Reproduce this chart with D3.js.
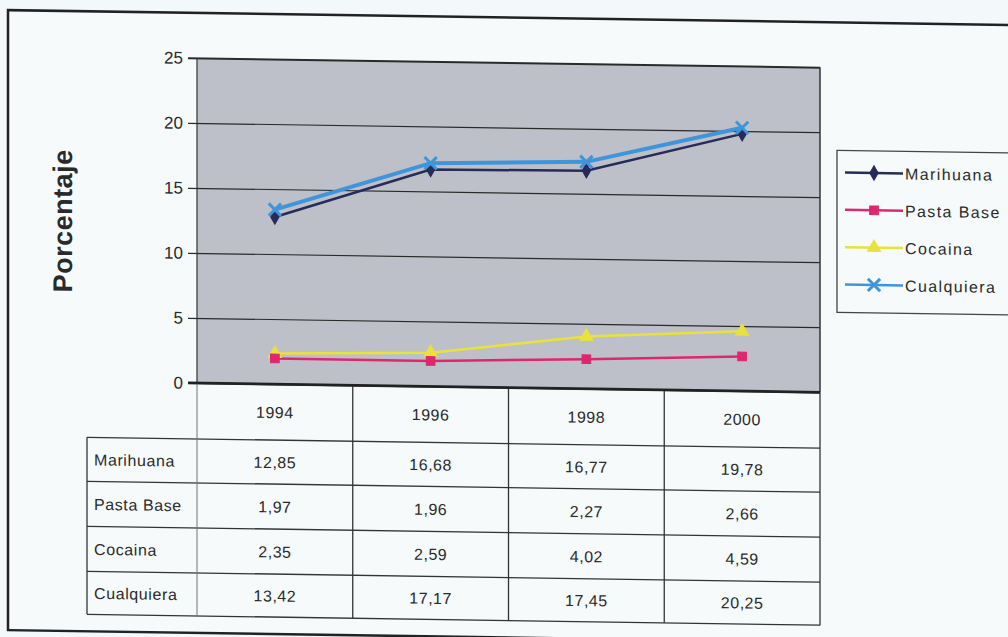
<!DOCTYPE html>
<html>
<head>
<meta charset="utf-8">
<script src="https://cdn.jsdelivr.net/npm/d3@7"></script>
<style>
  body { margin: 0; background: #f3f8fa; }
  svg { display: block; }
  text { font-family: 'Liberation Sans', Arial, sans-serif; fill: #2a2a2a; }
</style>
</head>
<body>
<div id="chart"></div>
<script>
let years = ['1994', '1996', '1998', '2000']
let seriesNames = ['Marihuana', 'Pasta Base', 'Cocaina', 'Cualquiera']
let marihuana = [12.85, 16.68, 16.77, 19.78]
let pastaBase = [1.97, 1.96, 2.27, 2.66]
let cocaina = [2.35, 2.59, 4.02, 4.59]
let cualquiera = [13.42, 17.17, 17.45, 20.25]
let yTicks = [0, 5, 10, 15, 20, 25]

let W = 1008
let H = 637

let plot = { left: 197, right: 820, top: 55, bottom: 380 }
let rowLines = [436, 480, 525, 570, 613]

let series = [
  { name: 'Marihuana', values: marihuana, color: '#262b58', width: 2.5, symbol: d3.symbolDiamond, size: 60 },
  { name: 'Pasta Base', values: pastaBase, color: '#e0266f', width: 2.5, symbol: d3.symbolSquare, size: 75 },
  { name: 'Cocaina', values: cocaina, color: '#e9e23a', width: 2.5, symbol: d3.symbolTriangle, size: 75 },
  { name: 'Cualquiera', values: cualquiera, color: '#3f95da', width: 4, symbol: d3.symbolX, size: 100 }
]

let svg = d3
  .select('#chart')
  .append('svg')
  .attr('width', W)
  .attr('height', H)

// page background
svg.append('rect').attr('width', W).attr('height', H).attr('fill', '#f3f8fa')

// the scan is slightly skewed
let g = svg.append('g').attr('transform', 'skewY(0.85)')

// outer frame
g.append('rect')
  .attr('x', 8)
  .attr('y', 10)
  .attr('width', 1020)
  .attr('height', 620)
  .attr('fill', '#f6fafb')
  .attr('stroke', '#222')
  .attr('stroke-width', 2.5)

let xPositionScale = d3
  .scalePoint()
  .domain(years)
  .range([plot.left, plot.right])
  .padding(0.5)

let yPositionScale = d3
  .scaleLinear()
  .domain([0, 25])
  .range([plot.bottom, plot.top])

let step = xPositionScale.step()

// plot area
g.append('rect')
  .attr('x', plot.left)
  .attr('y', plot.top)
  .attr('width', plot.right - plot.left)
  .attr('height', plot.bottom - plot.top)
  .attr('fill', '#bdc0c9')

// y axis with gridlines
let yAxis = d3
  .axisLeft(yPositionScale)
  .tickValues(yTicks)
  .tickSize(-(plot.right - plot.left))
  .tickPadding(14)
let yAxisG = g
  .append('g')
  .attr('class', 'axis y-axis')
  .attr('transform', 'translate(' + plot.left + ',0)')
  .call(yAxis)
yAxisG.select('.domain').remove()
yAxisG.selectAll('.tick line')
  .attr('x1', -9)
  .attr('stroke', '#2a2a2a')
  .attr('stroke-width', d => (d === 0 || d === 25 ? 2 : 1.2))
yAxisG.selectAll('.tick text')
  .attr('font-size', 17)
  .attr('fill', '#2a2a2a')
  .style('font-family', "'Liberation Sans', Arial, sans-serif")

// plot borders (left, right)
g.append('line')
  .attr('x1', plot.left).attr('x2', plot.left)
  .attr('y1', plot.top).attr('y2', plot.bottom)
  .attr('stroke', '#333').attr('stroke-width', 1.2)
g.append('line')
  .attr('x1', plot.right).attr('x2', plot.right)
  .attr('y1', plot.top).attr('y2', plot.bottom)
  .attr('stroke', '#333').attr('stroke-width', 1.5)

// lines
let line = d3
  .line()
  .x((d, i) => xPositionScale(years[i]))
  .y(d => yPositionScale(d))

let drawOrder = [series[2], series[1], series[0], series[3]]

g.selectAll('.drug-line')
  .data(drawOrder)
  .enter()
  .append('path')
  .attr('class', 'drug-line')
  .attr('d', d => line(d.values))
  .attr('fill', 'none')
  .attr('stroke', d => d.color)
  .attr('stroke-width', d => d.width)

drawOrder.forEach(s => {
  g.selectAll('.marker-' + s.name.replace(' ', ''))
    .data(s.values)
    .enter()
    .append('path')
    .attr('transform', (d, i) => 'translate(' + xPositionScale(years[i]) + ',' + yPositionScale(d) + ')')
    .attr('d', d3.symbol().type(s.symbol).size(s.size))
    .attr('fill', s.symbol === d3.symbolX ? 'none' : s.color)
    .attr('stroke', s.color)
    .attr('stroke-width', s.symbol === d3.symbolX ? 3 : 1)
})

// y label
g.append('text')
  .attr('transform', 'translate(72,220) rotate(-90)')
  .attr('text-anchor', 'middle')
  .attr('font-size', 27)
  .attr('font-weight', 'bold')
  .attr('letter-spacing', 0.5)
  .text('Porcentaje')

// data table
let table = g.append('g').attr('class', 'data-table')
let tableLeft = 87
let fmt = v => d3.format('.2f')(v).replace('.', ',')

// horizontal lines
table.selectAll('.row-line')
  .data(rowLines)
  .enter()
  .append('line')
  .attr('x1', tableLeft)
  .attr('x2', plot.right)
  .attr('y1', d => d)
  .attr('y2', d => d)
  .attr('stroke', '#333')
  .attr('stroke-width', 1.3)

// vertical lines
let colEdges = years.map(y => xPositionScale(y) + step / 2)
table.selectAll('.col-line')
  .data(colEdges)
  .enter()
  .append('line')
  .attr('x1', d => d)
  .attr('x2', d => d)
  .attr('y1', plot.bottom)
  .attr('y2', rowLines[rowLines.length - 1])
  .attr('stroke', '#333')
  .attr('stroke-width', 1.3)
table.append('line')
  .attr('x1', plot.left).attr('x2', plot.left)
  .attr('y1', plot.bottom).attr('y2', rowLines[rowLines.length - 1])
  .attr('stroke', '#777').attr('stroke-width', 1)
table.append('line')
  .attr('x1', tableLeft).attr('x2', tableLeft)
  .attr('y1', rowLines[0]).attr('y2', rowLines[rowLines.length - 1])
  .attr('stroke', '#333').attr('stroke-width', 1.3)

// plot bottom line on top of table
g.append('line')
  .attr('x1', plot.left - 9).attr('x2', plot.right)
  .attr('y1', plot.bottom).attr('y2', plot.bottom)
  .attr('stroke', '#222').attr('stroke-width', 2.5)

// year header
table.selectAll('.year-text')
  .data(years)
  .enter()
  .append('text')
  .attr('x', d => xPositionScale(d))
  .attr('y', (plot.bottom + rowLines[0]) / 2 + 6)
  .attr('text-anchor', 'middle')
  .attr('font-size', 16)
  .attr('letter-spacing', 0.5)
  .text(d => d)

// rows
series.forEach((s, r) => {
  let yMid = (rowLines[r] + rowLines[r + 1]) / 2 + 6
  table.append('text')
    .attr('x', tableLeft + 7)
    .attr('y', yMid)
    .attr('font-size', 16)
    .attr('letter-spacing', 0.6)
    .text(s.name)
  table.selectAll('.val-' + r)
    .data(s.values)
    .enter()
    .append('text')
    .attr('x', (d, i) => xPositionScale(years[i]))
    .attr('y', yMid)
    .attr('text-anchor', 'middle')
    .attr('font-size', 16)
    .attr('letter-spacing', 0.5)
    .text(d => fmt(d))
})

// legend
let legend = g.append('g').attr('class', 'legend')
legend.append('rect')
  .attr('x', 837)
  .attr('y', 138)
  .attr('width', 200)
  .attr('height', 162)
  .attr('fill', '#f6fafb')
  .attr('stroke', '#444')
  .attr('stroke-width', 1.3)

let legendY = d3.scalePoint().domain(seriesNames).range([160, 272])

let items = legend.selectAll('.legend-item')
  .data(series)
  .enter()
  .append('g')
  .attr('class', 'legend-item')
  .attr('transform', d => 'translate(0,' + legendY(d.name) + ')')

items.append('line')
  .attr('x1', 845).attr('x2', 903)
  .attr('y1', 0).attr('y2', 0)
  .attr('stroke', d => d.color)
  .attr('stroke-width', 2.5)
items.append('path')
  .attr('transform', 'translate(874,0)')
  .attr('d', d => d3.symbol().type(d.symbol).size(d.size)())
  .attr('fill', d => (d.symbol === d3.symbolX ? 'none' : d.color))
  .attr('stroke', d => d.color)
  .attr('stroke-width', d => (d.symbol === d3.symbolX ? 3 : 1))
items.append('text')
  .attr('x', 905)
  .attr('y', 6)
  .attr('font-size', 16)
  .attr('letter-spacing', 1.4)
  .text(d => d.name)
</script>
</body>
</html>
